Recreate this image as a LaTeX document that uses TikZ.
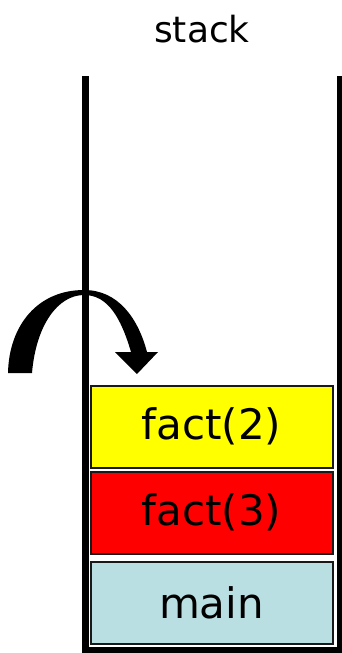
\documentclass[tikz,border=0pt]{standalone}
\usepackage{fontspec}
\setmainfont{DejaVu Sans}
\usetikzlibrary{positioning}
\definecolor{mainblue}{HTML}{B9DFE2}
\definecolor{frameyellow}{HTML}{FFFF00}
\definecolor{framered}{HTML}{FF0000}
\tikzset{
	frame/.style={draw=black!90, line width=2pt, minimum width=242pt, minimum height=82pt, inner sep=0pt, font=\fontsize{42}{48}\selectfont}
}

\begin{document}
\begin{tikzpicture}[x=1pt, y=-1pt]
	\useasboundingbox (0,0) rectangle (342,653);
	\node[font=\fontsize{36}{40}\selectfont] (title) at (202,29) {stack};
	% the frames
	\node[frame, fill=frameyellow] (fact2) at (211.5,426.5) {fact(2)};
	\node[frame, fill=framered, below=2pt of fact2] (fact3) {fact(3)};
	\node[frame, fill=mainblue, below=6pt of fact3] (main) {main};
	% call arrow
	\fill (8,373) .. controls (9,325) and (38,290) .. (84,290) .. controls (118,290) and (138,318) .. (147,352)
		-- (158,352) -- (137,374) -- (115,352) -- (131,352)
		.. controls (121,318) and (108,295) .. (84,295) .. controls (58,295) and (36,325) .. (32,373) -- cycle;
	% walls
	\draw[line width=6.5pt] (85.5,76) -- (85.5,650) -- (340.5,650) -- (340.5,76);
\end{tikzpicture}
\end{document}
